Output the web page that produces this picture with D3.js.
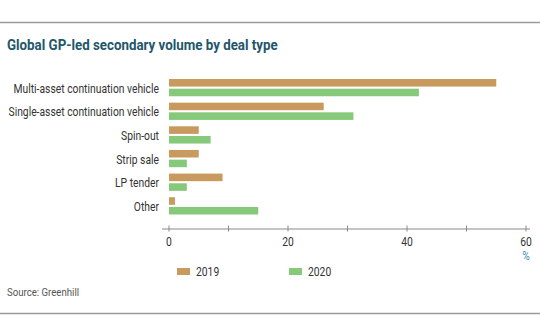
<!DOCTYPE html>
<html>
<head>
<meta charset="utf-8">
<script src="https://cdn.jsdelivr.net/npm/d3@7"></script>
<style>
  body { margin: 0; background: #fff; }
  svg { display: block; font-family: Roboto, "DejaVu Sans", sans-serif; }
</style>
</head>
<body>
<svg id="chart" width="540" height="334"></svg>
<script>
// deal types, top to bottom
const dealTypes = ["Multi-asset continuation vehicle", "Single-asset continuation vehicle",
                   "Spin-out", "Strip sale", "LP tender", "Other"];
const years = ["2019", "2020"];
const values2019 = [55, 26, 5, 5, 9, 1];
const values2020 = [42, 31, 7, 3, 3, 15];
const xTicks = [0, 20, 40, 60];

const colors = {"2019": "#c99a5e", "2020": "#86c97a"};
const squeeze = 0.86; // narrow the type a bit, DIN-like

const data = dealTypes.map((name, i) => ({
    name,
    values: [{year: "2019", value: values2019[i]}, {year: "2020", value: values2020[i]}]
}));

const svg = d3.select("#chart");
const width = +svg.attr("width");

// place a text node at (tx, ty) squeezed horizontally
function placeText(g, tx, ty) {
    return g.append("g")
        .attr("transform", `translate(${tx},${ty}) scale(${squeeze},1)`)
        .append("text");
}

// frame lines + title
svg.append("line").attr("x1", 0).attr("x2", width).attr("y1", 22.5).attr("y2", 22.5)
    .attr("stroke", "#9a9a9a").attr("stroke-width", 1.5);
svg.append("line").attr("x1", 0).attr("x2", width).attr("y1", 313.5).attr("y2", 313.5)
    .attr("stroke", "#9a9a9a").attr("stroke-width", 1.5);

placeText(svg, 7, 50)
    .attr("fill", "#23566b")
    .attr("font-size", 15.5)
    .attr("font-weight", "bold")
    .text("Global GP-led secondary volume by deal type");

const x = d3.scaleLinear().domain([0, 60]).range([169, 526]);
const y = d3.scaleBand().domain(dealTypes).range([79, 214.5]).paddingInner(0.27);
const ySub = d3.scaleBand().domain(years).range([0, y.bandwidth()]).paddingInner(0.22);

const groups = svg.append("g").selectAll("g")
    .data(data)
    .enter()
    .append("g")
    .attr("transform", d => `translate(0,${y(d.name)})`);

groups.selectAll("rect")
    .data(d => d.values)
    .enter()
    .append("rect")
    .attr("x", x(0))
    .attr("y", d => ySub(d.year))
    .attr("width", d => x(d.value) - x(0))
    .attr("height", ySub.bandwidth())
    .attr("fill", d => colors[d.year]);

groups.each(function(d) {
    placeText(d3.select(this), 159, y.bandwidth() / 2 + 1)
        .attr("dy", "0.35em")
        .attr("text-anchor", "end")
        .attr("font-size", 12)
        .attr("fill", "#333")
        .text(d.name);
});

// x axis: minor ticks every 10, labels every 20
const axisY = 229;
const axis = svg.append("g").attr("transform", `translate(0,${axisY})`);
axis.append("line").attr("x1", 162).attr("x2", 530)
    .attr("stroke", "#888").attr("stroke-width", 1);
axis.selectAll(".tick")
    .data(d3.range(0, 61, 10))
    .enter()
    .append("line")
    .attr("x1", d => x(d)).attr("x2", d => x(d))
    .attr("y1", -3.5).attr("y2", 2.5)
    .attr("stroke", "#888");
xTicks.forEach(t => {
    placeText(axis, x(t), 17)
        .attr("text-anchor", "middle")
        .attr("font-size", 12)
        .attr("fill", "#333")
        .text(t);
});
placeText(axis, x(60), 31)
    .attr("text-anchor", "middle")
    .attr("font-size", 12)
    .attr("fill", "#4a8fb0")
    .text("%");

// legend
years.forEach((yr, i) => {
    const lg = svg.append("g").attr("transform", `translate(${177 + i * 112},268)`);
    lg.append("rect").attr("width", 13).attr("height", 7).attr("fill", colors[yr]);
    placeText(lg, 19, 3.5)
        .attr("dy", "0.35em")
        .attr("font-size", 12)
        .attr("fill", "#333")
        .text(yr);
});

placeText(svg, 7, 296)
    .attr("font-size", 11.2)
    .attr("fill", "#555")
    .text("Source: Greenhill");
</script>
</body>
</html>
